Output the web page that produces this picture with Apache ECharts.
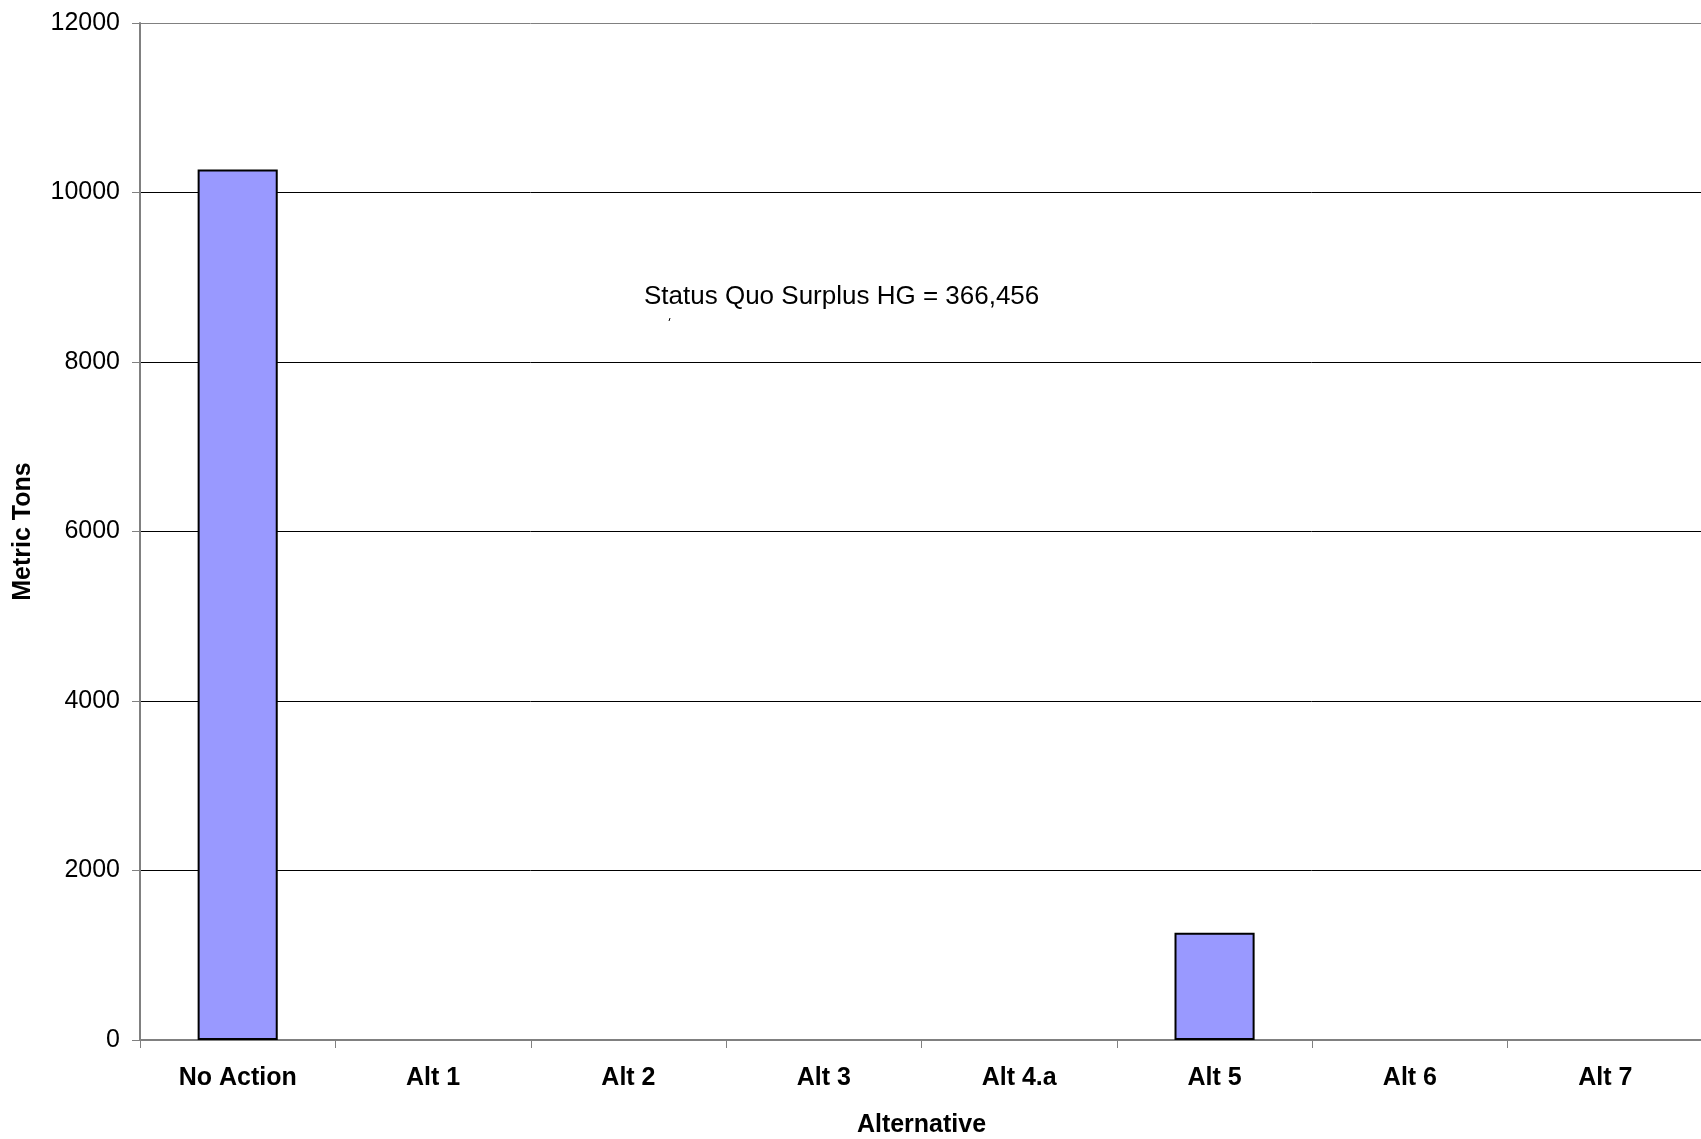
<!DOCTYPE html>
<html>
<head>
<meta charset="utf-8">
<script src="https://cdn.jsdelivr.net/npm/echarts@6/dist/echarts.min.js"></script>
<style>
  html, body { margin: 0; padding: 0; background: #fff; }
  #chart { width: 1701px; height: 1139px; }
</style>
</head>
<body>
<div id="chart"></div>
<script>
// Surplus mercury by alternative (metric tons)
const categories = ['No Action', 'Alt 1', 'Alt 2', 'Alt 3', 'Alt 4.a', 'Alt 5', 'Alt 6', 'Alt 7'];
const metricTons = [10270, 0, 0, 0, 0, 1265, 0, 0];
const yTicks = { min: 0, max: 12000, interval: 2000 };
const noteText = 'Status Quo Surplus HG = 366,456';

const FONT = '"Liberation Sans", Arial, sans-serif';
const chart = echarts.init(document.getElementById('chart'));

// zero-height bars get no outline so they don't show up as stray strokes
const barData = metricTons.map(v => ({
  value: v,
  itemStyle: v === 0 ? { borderWidth: 0 } : undefined
}));

chart.setOption({
  animation: false,
  backgroundColor: '#ffffff',
  grid: { left: 140, right: -2, top: 23, bottom: 99, containLabel: false, outerBoundsMode: 'none' },
  xAxis: {
    type: 'category',
    data: categories,
    name: 'Alternative',
    nameLocation: 'middle',
    nameGap: 73,
    nameTextStyle: { fontFamily: FONT, fontSize: 25, fontWeight: 'bold', color: '#000' },
    axisLine: { lineStyle: { color: '#808080', width: 2 } },
    axisTick: { show: true, length: 8, lineStyle: { color: '#808080', width: 1 } },
    axisLabel: { fontFamily: FONT, fontSize: 25, fontWeight: 'bold', color: '#000', margin: 26 },
    splitLine: { show: false }
  },
  yAxis: {
    type: 'value',
    min: yTicks.min,
    max: yTicks.max,
    interval: yTicks.interval,
    name: 'Metric Tons',
    nameLocation: 'middle',
    nameGap: 104,
    nameRotate: 90,
    nameTextStyle: { fontFamily: FONT, fontSize: 25, fontWeight: 'bold', color: '#000' },
    axisLine: { show: true, lineStyle: { color: '#808080', width: 2 } },
    axisTick: { show: true, length: 8, lineStyle: { color: '#808080', width: 1 } },
    axisLabel: { fontFamily: FONT, fontSize: 25, color: '#000', margin: 20, formatter: v => String(v) },
    splitLine: {
      show: true,
      lineStyle: { color: ['#000', '#000', '#000', '#000', '#000', '#000', '#808080'], width: 1 }
    }
  },
  series: [{
    type: 'bar',
    data: barData,
    barWidth: '41%',
    itemStyle: { color: '#9999FF', borderColor: '#000', borderWidth: 2 }
  }],
  graphic: [
    {
      type: 'text',
      left: 644,
      top: 284,
      style: { text: noteText, fontFamily: FONT, fontSize: 26, fill: '#000' }
    },
    {
      type: 'line',
      shape: { x1: 670, y1: 318, x2: 669, y2: 321 },
      style: { stroke: '#000', lineWidth: 1 }
    }
  ]
});
</script>
</body>
</html>
